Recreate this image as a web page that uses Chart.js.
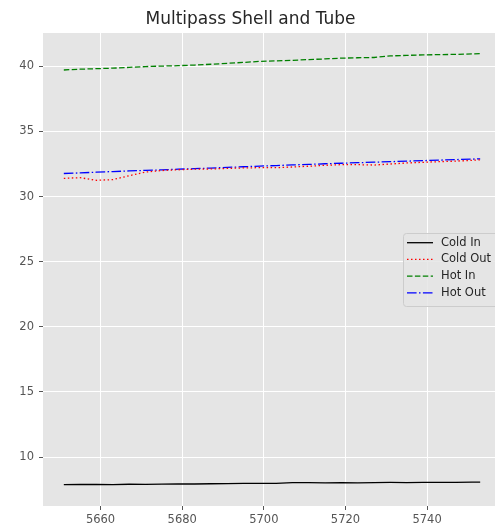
<!DOCTYPE html>
<html>
<head>
<meta charset="utf-8">
<script src="https://cdn.jsdelivr.net/npm/chart.js@4/dist/chart.umd.min.js"></script>
<style>
	html, body { margin: 0; padding: 0; background: #fff; overflow: hidden; }
	#wrap { width: 495px; height: 529px; overflow: hidden; }
</style>
</head>
<body>
<div id="wrap"><canvas id="chart" width="515" height="529"></canvas></div>
<script>
var steps = [5651, 5655, 5659, 5663, 5667, 5671, 5675, 5679, 5683, 5687, 5691, 5695, 5699, 5703,
	5707, 5711, 5715, 5719, 5723, 5727, 5731, 5735, 5739, 5743, 5747, 5751, 5753];

var coldIn = [7.88, 7.90, 7.89, 7.88, 7.91, 7.90, 7.92, 7.94, 7.93, 7.95, 7.96, 7.97, 7.98, 7.97,
	8.04, 8.03, 8.02, 8.04, 8.02, 8.04, 8.05, 8.04, 8.05, 8.06, 8.05, 8.07, 8.07];
var coldOut = [31.40, 31.45, 31.25, 31.30, 31.60, 31.88, 32.00, 32.06, 32.10, 32.12, 32.16, 32.20, 32.22, 32.22,
	32.27, 32.33, 32.40, 32.45, 32.45, 32.42, 32.50, 32.58, 32.63, 32.68, 32.72, 32.78, 32.82];
var hotIn = [39.72, 39.78, 39.82, 39.86, 39.92, 39.98, 40.02, 40.05, 40.10, 40.16, 40.23, 40.30, 40.38, 40.42,
	40.46, 40.52, 40.57, 40.63, 40.66, 40.68, 40.80, 40.84, 40.88, 40.90, 40.92, 40.95, 40.97];
var hotOut = [31.77, 31.82, 31.87, 31.92, 31.97, 32.01, 32.05, 32.10, 32.14, 32.19, 32.24, 32.29, 32.34, 32.38,
	32.43, 32.47, 32.52, 32.56, 32.60, 32.64, 32.68, 32.72, 32.76, 32.80, 32.84, 32.88, 32.90];

var xTicks = [5660, 5680, 5700, 5720, 5740];
var yTicks = [10, 15, 20, 25, 30, 35, 40];

var FONT = "'DejaVu Sans', 'Liberation Sans', sans-serif";

function toPoints(ys) {
	var pts = [];
	for (var i = 0; i < steps.length; i++) {
		pts.push({x: steps[i], y: ys[i]});
	}
	return pts;
}

function series(label, ys, color, dash) {
	return {
		label: label,
		data: toPoints(ys),
		borderColor: color,
		borderWidth: 1.3,
		borderDash: dash,
		pointRadius: 0,
		tension: 0,
		fill: false
	};
}

//grey panel like the ggplot style
var panelBg = {
	id: 'panelBg',
	beforeDraw: function(chart) {
		var a = chart.chartArea, ctx = chart.ctx;
		ctx.save();
		ctx.fillStyle = '#e5e5e5';
		ctx.fillRect(a.left, a.top, a.right - a.left, a.bottom - a.top);
		ctx.restore();
	}
};

//legend box sitting inside the plot, right side
var innerLegend = {
	id: 'innerLegend',
	afterDraw: function(chart) {
		var ctx = chart.ctx;
		var sets = chart.data.datasets;
		ctx.save();
		ctx.fillStyle = 'rgba(229,229,229,0.85)';
		ctx.strokeStyle = '#cccccc';
		ctx.lineWidth = 1;
		ctx.beginPath();
		ctx.roundRect(403.5, 233.5, 100, 73, 3);
		ctx.fill();
		ctx.stroke();
		ctx.font = '11.5px ' + FONT;
		ctx.textBaseline = 'middle';
		for (var i = 0; i < sets.length; i++) {
			var y = 242.7 + i * 16.7;
			ctx.strokeStyle = sets[i].borderColor;
			ctx.lineWidth = sets[i].borderWidth;
			ctx.setLineDash(sets[i].borderDash || []);
			ctx.beginPath();
			ctx.moveTo(407, y);
			ctx.lineTo(433, y);
			ctx.stroke();
			ctx.setLineDash([]);
			ctx.fillStyle = '#262626';
			ctx.fillText(sets[i].label, 441, y);
		}
		ctx.restore();
	}
};

function fixedTicks(list) {
	return function(scale) {
		scale.ticks = list.map(function(v) { return {value: v}; });
	};
}

var chart = new Chart(document.getElementById('chart'), {
	type: 'line',
	data: {
		datasets: [
			series('Cold In', coldIn, '#000000', []),
			series('Cold Out', coldOut, '#ff0000', [1.5, 2.5]),
			series('Hot In', hotIn, '#008000', [5.5, 2.4]),
			series('Hot Out', hotOut, '#0000ff', [9.6, 2.4, 1.5, 2.4])
		]
	},
	options: {
		responsive: false,
		animation: false,
		devicePixelRatio: 1,
		layout: { padding: { top: 0, left: 0, right: 14, bottom: 0 } },
		plugins: {
			legend: { display: false },
			tooltip: { enabled: false },
			title: {
				display: true,
				text: 'Multipass Shell and Tube',
				color: '#262626',
				font: { family: FONT, size: 17, weight: 'normal' },
				padding: { top: 9, bottom: 3.6 }
			}
		},
		scales: {
			x: {
				type: 'linear',
				min: 5645.9,
				max: 5758.1,
				afterBuildTicks: fixedTicks(xTicks),
				afterFit: function(scale) { scale.height = 23; },
				border: { display: false },
				grid: { color: '#ffffff', lineWidth: 1, tickColor: '#555555', tickLength: 4 },
				ticks: {
					color: '#555555',
					padding: 3,
					maxRotation: 0,
					font: { family: FONT, size: 11.5 },
					callback: function(v) { return String(v); }
				}
			},
			y: {
				type: 'linear',
				min: 6.24,
				max: 42.56,
				afterBuildTicks: fixedTicks(yTicks),
				afterFit: function(scale) { scale.width = 43; },
				border: { display: false },
				grid: { color: '#ffffff', lineWidth: 1, tickColor: '#555555', tickLength: 4 },
				ticks: {
					color: '#555555',
					padding: 5,
					font: { family: FONT, size: 11.5 },
					callback: function(v) { return String(v); }
				}
			}
		}
	},
	plugins: [panelBg, innerLegend]
});
</script>
</body>
</html>
